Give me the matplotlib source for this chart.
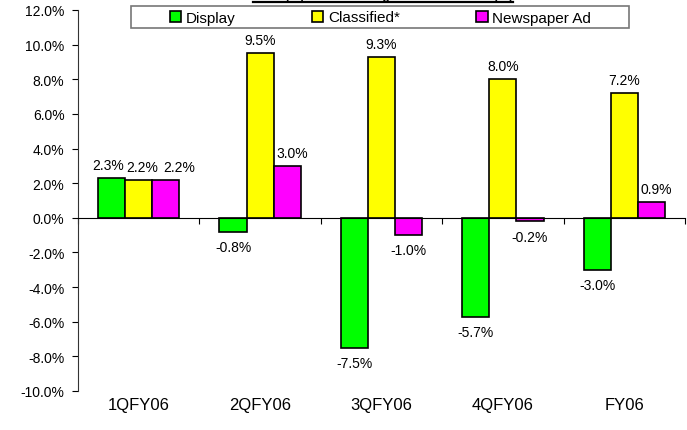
import matplotlib
matplotlib.use("Agg")
import matplotlib.pyplot as plt
import numpy as np
from matplotlib.patches import Patch, Rectangle
from matplotlib.lines import Line2D
from matplotlib.ticker import FuncFormatter, MultipleLocator

plt.rcParams['font.family'] = ['Liberation Sans', 'DejaVu Sans']

categories = ["1QFY06", "2QFY06", "3QFY06", "4QFY06", "FY06"]
series_names = ["Display", "Classified*", "Newspaper Ad"]
display = [2.3, -0.8, -7.5, -5.7, -3.0]
classified = [2.2, 9.5, 9.3, 8.0, 7.2]
newspaper = [2.2, 3.0, -1.0, -0.2, 0.9]
title_text = "Newspaper Advertising Revenue Growth (%)"

colors = ["#00FF00", "#FFFF00", "#FF00FF"]
series = [display, classified, newspaper]

W, H = 687, 431
fig = plt.figure(figsize=(W / 100, H / 100), dpi=100)
L, R, T, B = 78, 685, 11, 392
ax = fig.add_axes([L / W, 1 - B / H, (R - L) / W, (B - T) / H])

x = np.arange(len(categories))
bw = 0.223
for i, (vals, c, name) in enumerate(zip(series, colors, series_names)):
    xs = x + (i - 1) * bw
    ax.bar(xs, vals, width=bw, color=c, edgecolor="black", linewidth=1.2,
           label=name, zorder=3)

# data labels (nudges in pixels for crowded spots)
nudge = {(0, 0): -4, (1, 0): 3, (2, 0): 13, (2, 1): 5, (2, 4): 5}
for i, vals in enumerate(series):
    for j, v in enumerate(vals):
        xs = x[j] + (i - 1) * bw
        dx = nudge.get((i, j), 0) * 72 / 100
        if v >= 0:
            ax.annotate(f"{v:.1f}%", (xs, v), xytext=(dx, 6.5), textcoords="offset points",
                        ha="center", va="baseline", fontsize=10, zorder=4)
        else:
            ax.annotate(f"{v:.1f}%", (xs, v), xytext=(dx, -6), textcoords="offset points",
                        ha="center", va="top", fontsize=10, zorder=4)

ax.set_ylim(-10, 12)
ax.set_xlim(-0.5, len(categories) - 0.5)
ax.yaxis.set_major_locator(MultipleLocator(2))
ax.yaxis.set_major_formatter(FuncFormatter(lambda v, p: f"{v:.1f}%"))
ax.tick_params(axis="y", direction="out", length=4.3, width=0.8, pad=5.5,
               labelsize=10, colors="black")

for s in ["top", "right"]:
    ax.spines[s].set_visible(False)
ax.spines["left"].set_linewidth(0.8)
ax.spines["left"].set_color("#333333")
ax.spines["bottom"].set_position(("data", 0))
ax.spines["bottom"].set_linewidth(0.8)
ax.spines["bottom"].set_zorder(5)
ax.set_xticks(np.arange(len(categories) + 1) - 0.5)
ax.set_xticklabels([])
ax.tick_params(axis="x", direction="out", length=4, width=0.8)

trans = matplotlib.transforms.blended_transform_factory(ax.transData, ax.transAxes)
for j, cat in enumerate(categories):
    ax.text(x[j], -0.035, cat, transform=trans, ha="center", va="center", fontsize=12)

# legend
handles = [Patch(facecolor=c, edgecolor="black", linewidth=1.2) for c in colors]
leg = fig.legend(handles, series_names, loc="center", ncol=3, frameon=False,
                 bbox_to_anchor=(380.5 / W, 1 - 18.5 / H), fontsize=11,
                 handlelength=0.75, handleheight=0.75, handletextpad=0.3,
                 columnspacing=5.0, borderpad=0, borderaxespad=0)
fig.add_artist(Rectangle((131 / W, 1 - 29 / H), (629 - 131) / W, 22 / H,
                         transform=fig.transFigure, fill=False,
                         edgecolor="#777777", linewidth=1.2, zorder=10))

# title (mostly cut off at top of image, as in the reference)
t = fig.text(383 / W, 1 + 0.6 / H, title_text, ha="center", va="baseline",
             fontsize=11, fontweight="bold")
fig.canvas.draw()
bb = t.get_window_extent()
t.set_fontsize(11 * 260 / bb.width)
fig.add_artist(Line2D([253 / W, 513 / W], [1 - 2.5 / H, 1 - 2.5 / H],
                      transform=fig.transFigure, color="black", linewidth=1.6))

fig.savefig("out.png", dpi=100)
